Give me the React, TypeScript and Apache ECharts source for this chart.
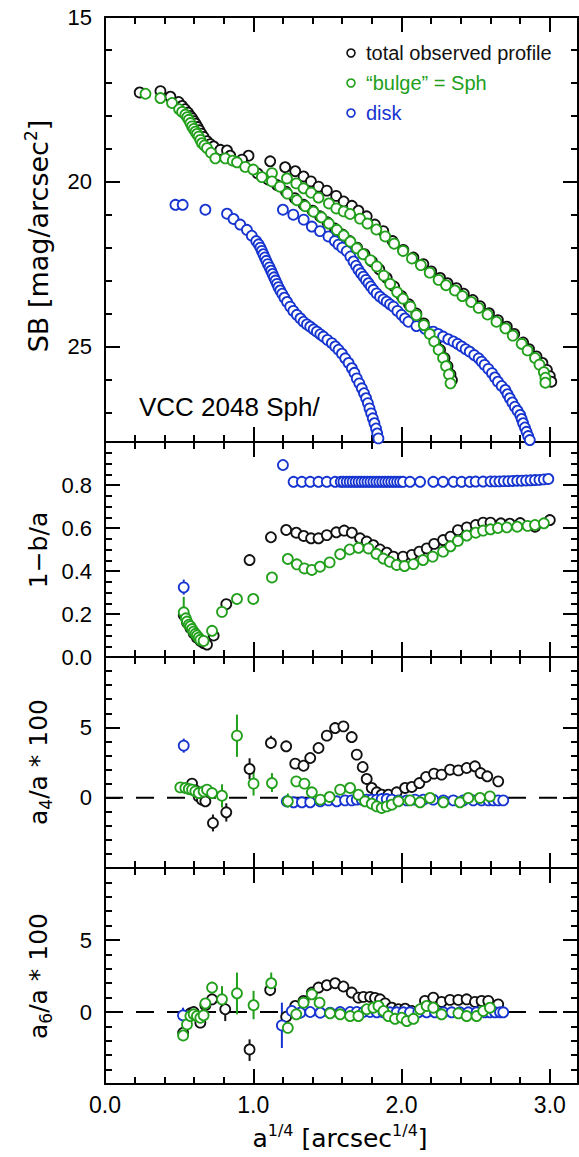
import React, { useEffect, useRef } from "react";
import * as echarts from "echarts";

const BLACK = "#111111";
const GREEN = "#22a01c";
const BLUE = "#1634d0";
const FONT = '"Liberation Sans", Arial, sans-serif';
const TFONT = '"DejaVu Sans", sans-serif';

// ---------- Panel 1: surface brightness (x = a^1/4, y = SB) ----------
const sbBlackA = [
  [0.968, 19.21], [1.114, 19.38], [1.215, 19.56], [1.283, 19.68], [1.339, 19.84], [1.389, 19.99],
  [1.44, 20.15], [1.496, 20.27], [1.559, 20.43], [1.61, 20.6], [1.665, 20.73], [1.709, 20.88],
  [1.765, 21.05], [1.82, 21.3], [1.877, 21.5], [1.94, 21.8], [2.012, 22.07], [2.08, 22.3],
  [2.147, 22.5], [2.2, 22.72], [2.26, 22.92], [2.31, 23.08], [2.37, 23.23], [2.42, 23.4],
  [2.48, 23.59], [2.53, 23.78], [2.59, 23.99], [2.65, 24.2], [2.71, 24.4], [2.76, 24.62],
  [2.82, 24.88], [2.86, 25.08], [2.91, 25.3], [2.95, 25.5], [2.98, 25.71], [3.0, 25.9], [3.01, 26.07],
];
const sbBlackB = [
  [0.234, 17.29], [0.374, 17.25], [0.441, 17.42], [0.497, 17.58], [0.52, 17.7], [0.54, 17.8],
  [0.56, 17.9], [0.575, 18.0], [0.587, 18.07], [0.6, 18.16], [0.612, 18.24], [0.625, 18.34],
  [0.637, 18.44], [0.65, 18.54], [0.665, 18.64], [0.688, 18.77], [0.71, 18.86], [0.733, 18.93],
  [0.778, 19.03], [0.823, 19.05], [0.845, 19.21], [0.924, 19.33], [1.03, 19.75], [1.1, 19.93],
  [1.16, 20.1], [1.22, 20.3], [1.28, 20.5], [1.34, 20.7], [1.4, 20.88], [1.45, 21.05],
  [1.5, 21.23], [1.55, 21.42], [1.6, 21.6], [1.65, 21.8], [1.7, 22.0], [1.75, 22.2],
  [1.8, 22.42], [1.85, 22.66], [1.9, 22.92], [1.95, 23.18], [2.0, 23.47], [2.05, 23.72],
  [2.1, 24.0], [2.15, 24.3], [2.19, 24.58], [2.23, 24.85], [2.26, 25.1], [2.29, 25.35],
  [2.31, 25.6], [2.33, 25.85], [2.34, 26.02],
];
const sbGreenA = [
  [1.126, 19.74], [1.227, 19.9], [1.29, 20.05], [1.339, 20.2], [1.39, 20.33], [1.44, 20.48],
  [1.51, 20.66], [1.56, 20.81], [1.61, 20.9], [1.653, 20.98], [1.72, 21.12], [1.77, 21.27],
  [1.83, 21.45], [1.89, 21.66], [1.95, 21.88], [2.01, 22.1], [2.07, 22.33], [2.13, 22.53],
  [2.19, 22.76], [2.25, 22.98], [2.3, 23.14], [2.36, 23.3], [2.41, 23.47], [2.47, 23.65],
  [2.52, 23.83], [2.58, 24.03], [2.64, 24.25], [2.7, 24.45], [2.75, 24.67], [2.81, 24.92],
  [2.85, 25.12], [2.9, 25.35], [2.93, 25.55], [2.96, 25.78], [2.97, 25.95], [2.97, 26.1],
];
const sbGreenB = [
  [0.273, 17.33], [0.374, 17.46], [0.452, 17.61], [0.5, 17.8], [0.52, 17.88], [0.542, 17.96],
  [0.555, 18.04], [0.565, 18.12], [0.576, 18.22], [0.587, 18.32], [0.598, 18.4], [0.61, 18.48],
  [0.62, 18.55], [0.632, 18.63], [0.643, 18.73], [0.654, 18.83], [0.67, 18.9], [0.688, 18.98],
  [0.715, 19.12], [0.744, 19.29], [0.811, 19.29], [0.862, 19.36], [0.89, 19.41], [0.946, 19.55],
  [1.0, 19.63], [1.058, 19.86], [1.126, 19.99], [1.18, 20.15], [1.23, 20.36], [1.294, 20.56],
  [1.35, 20.74], [1.406, 20.91], [1.46, 21.08], [1.51, 21.27], [1.564, 21.46], [1.61, 21.63],
  [1.655, 21.82], [1.698, 22.02], [1.74, 22.2], [1.79, 22.38], [1.833, 22.57], [1.88, 22.85],
  [1.923, 23.1], [1.97, 23.35], [2.01, 23.55], [2.06, 23.79], [2.1, 24.05], [2.15, 24.35],
  [2.19, 24.62], [2.22, 24.85], [2.25, 25.1], [2.28, 25.35], [2.3, 25.6], [2.32, 25.85], [2.33, 26.12],
];
const sbBlue1 = [
  [0.475, 20.7], [0.524, 20.7], [0.677, 20.85], [0.823, 20.97], [0.867, 21.13], [0.912, 21.3],
  [0.957, 21.46], [0.99, 21.64], [1.02, 21.8], [1.036, 21.9], [1.048, 22.0], [1.058, 22.1],
  [1.068, 22.2], [1.078, 22.3], [1.088, 22.4], [1.098, 22.5], [1.11, 22.6], [1.12, 22.7],
  [1.13, 22.8], [1.14, 22.9], [1.15, 23.0], [1.16, 23.1], [1.17, 23.2], [1.182, 23.3],
  [1.195, 23.4], [1.21, 23.52], [1.228, 23.65], [1.249, 23.79], [1.27, 23.92], [1.294, 24.04],
  [1.318, 24.15], [1.339, 24.25], [1.362, 24.33], [1.384, 24.4], [1.407, 24.48], [1.429, 24.55],
  [1.452, 24.63], [1.473, 24.7], [1.5, 24.8], [1.53, 24.9], [1.553, 25.0], [1.575, 25.1],
  [1.598, 25.22], [1.62, 25.36], [1.643, 25.5], [1.665, 25.66], [1.682, 25.8], [1.698, 25.97],
  [1.715, 26.12], [1.732, 26.27], [1.747, 26.42], [1.761, 26.57], [1.773, 26.72], [1.784, 26.88],
  [1.795, 27.03], [1.806, 27.18], [1.817, 27.33], [1.828, 27.49], [1.836, 27.64], [1.844, 27.79],
];
const sbBlue2 = [
  [1.2, 20.85], [1.27, 21.0], [1.34, 21.15], [1.395, 21.36], [1.45, 21.5], [1.507, 21.66],
  [1.55, 21.8], [1.575, 21.91], [1.6, 22.0], [1.63, 22.11], [1.655, 22.27], [1.676, 22.42],
  [1.693, 22.55], [1.709, 22.67], [1.726, 22.78], [1.743, 22.88], [1.76, 22.98], [1.777, 23.08],
  [1.793, 23.18], [1.81, 23.28], [1.832, 23.39], [1.855, 23.49], [1.878, 23.57], [1.9, 23.64],
  [1.922, 23.72], [1.945, 23.79], [1.972, 23.92], [2.0, 24.04], [2.023, 24.15], [2.046, 24.25],
  [2.1, 24.38], [2.16, 24.47], [2.214, 24.55], [2.247, 24.62], [2.28, 24.7], [2.315, 24.78],
  [2.35, 24.85], [2.378, 24.92], [2.405, 25.0], [2.432, 25.08], [2.46, 25.16], [2.49, 25.26],
  [2.52, 25.36], [2.54, 25.46], [2.56, 25.56], [2.585, 25.68], [2.61, 25.81], [2.63, 25.94],
  [2.65, 26.07], [2.675, 26.2], [2.7, 26.32], [2.715, 26.45], [2.73, 26.57], [2.747, 26.7],
  [2.764, 26.83], [2.782, 26.95], [2.8, 27.08], [2.81, 27.2], [2.82, 27.33], [2.832, 27.46],
  [2.843, 27.59], [2.854, 27.72], [2.865, 27.84],
];

// ---------- Panel 2: ellipticity 1-b/a ----------
const ellBlack = [
  [0.531, 0.195], [0.553, 0.16], [0.576, 0.135], [0.598, 0.11], [0.62, 0.09], [0.643, 0.075],
  [0.665, 0.065], [0.688, 0.058], [0.733, 0.1], [0.818, 0.246], [0.975, 0.451], [1.119, 0.557],
  [1.222, 0.591], [1.29, 0.578], [1.34, 0.563], [1.39, 0.552], [1.44, 0.552], [1.496, 0.567],
  [1.56, 0.58], [1.613, 0.588], [1.665, 0.578], [1.72, 0.552], [1.765, 0.537], [1.81, 0.52],
  [1.855, 0.5], [1.9, 0.485], [1.945, 0.467], [2.01, 0.467], [2.07, 0.475], [2.12, 0.49],
  [2.17, 0.505], [2.22, 0.526], [2.28, 0.544], [2.33, 0.56], [2.38, 0.59], [2.44, 0.603],
  [2.5, 0.614], [2.55, 0.625], [2.6, 0.625], [2.67, 0.622], [2.73, 0.62], [2.8, 0.623],
  [2.9, 0.606], [3.0, 0.637],
];
const ellGreen = [
  [0.531, 0.208], [0.545, 0.18], [0.553, 0.165], [0.565, 0.15], [0.576, 0.143], [0.587, 0.13],
  [0.598, 0.118], [0.61, 0.108], [0.62, 0.1], [0.632, 0.09], [0.643, 0.08], [0.665, 0.075],
  [0.722, 0.122], [0.789, 0.21], [0.89, 0.27], [1.0, 0.27], [1.126, 0.37], [1.233, 0.456],
  [1.294, 0.431], [1.345, 0.412], [1.395, 0.405], [1.45, 0.42], [1.515, 0.44], [1.586, 0.478],
  [1.65, 0.5], [1.71, 0.508], [1.777, 0.505], [1.83, 0.48], [1.877, 0.458], [1.92, 0.443],
  [1.967, 0.428], [2.02, 0.423], [2.08, 0.432], [2.145, 0.451], [2.21, 0.467], [2.28, 0.49],
  [2.33, 0.515], [2.38, 0.54], [2.44, 0.565], [2.5, 0.578], [2.55, 0.588], [2.6, 0.594],
  [2.65, 0.6], [2.71, 0.603], [2.78, 0.606], [2.85, 0.61], [2.9, 0.614], [2.96, 0.622],
];
const ellBlue = [
  [0.531, 0.324], [1.2, 0.893], [1.272, 0.815], [1.328, 0.815], [1.384, 0.815], [1.44, 0.815],
  [1.496, 0.815], [1.552, 0.815], [1.59, 0.815], [1.608, 0.815], [1.63, 0.815], [1.65, 0.815],
  [1.67, 0.815], [1.69, 0.815], [1.71, 0.815], [1.73, 0.815], [1.75, 0.815], [1.77, 0.815],
  [1.79, 0.815], [1.81, 0.815], [1.83, 0.815], [1.85, 0.815], [1.87, 0.815], [1.89, 0.815],
  [1.91, 0.815], [1.93, 0.815], [1.95, 0.815], [1.97, 0.815], [1.99, 0.815], [2.01, 0.815],
  [2.057, 0.815], [2.125, 0.815], [2.214, 0.815], [2.28, 0.815], [2.35, 0.815], [2.405, 0.815],
  [2.46, 0.815], [2.5, 0.816], [2.55, 0.816], [2.6, 0.817], [2.63, 0.817], [2.66, 0.817],
  [2.69, 0.818], [2.72, 0.818], [2.75, 0.819], [2.78, 0.82], [2.81, 0.82], [2.84, 0.821],
  [2.87, 0.822], [2.9, 0.823], [2.93, 0.824], [2.96, 0.826], [2.99, 0.828],
];
const ellErrBlue = [[0.531, 0.29, 0.36]];
const ellErrGreen = [[0.531, 0.21, 0.28]];

// ---------- Panel 3: a4/a * 100 ----------
const a4Black = [
  [0.587, 1.0], [0.609, 0.52], [0.632, 0.09], [0.654, -0.14], [0.677, -0.26], [0.728, -1.8],
  [0.818, -1.04], [0.975, 2.04], [1.119, 3.89], [1.222, 3.65], [1.283, 2.42], [1.339, 2.27],
  [1.384, 2.82], [1.44, 3.53], [1.496, 4.41], [1.552, 4.95], [1.608, 5.07], [1.664, 4.31],
  [1.698, 3.06], [1.738, 2.18], [1.765, 1.33], [1.799, 0.69], [1.833, 0.38], [1.866, 0.21],
  [1.911, 0.21], [1.967, 0.38], [2.024, 0.69], [2.069, 0.76], [2.12, 1.04], [2.165, 1.47],
  [2.219, 1.71], [2.27, 1.64], [2.327, 1.99], [2.383, 1.94], [2.439, 2.11], [2.495, 2.23],
  [2.533, 1.75], [2.578, 1.52], [2.652, 1.16],
];
const a4Green = [
  [0.508, 0.73], [0.542, 0.69], [0.565, 0.62], [0.587, 0.57], [0.609, 0.45], [0.632, 0.33],
  [0.665, 0.45], [0.688, 0.57], [0.722, 0.33], [0.789, 0.14], [0.89, 4.41], [1.002, 1.0],
  [1.126, 1.04], [1.233, -0.26], [1.29, 1.16], [1.345, 1.0], [1.395, 0.38], [1.452, -0.14],
  [1.515, 0.05], [1.586, 0.57], [1.653, 0.69], [1.709, 0.21], [1.754, -0.26], [1.799, -0.43],
  [1.833, -0.62], [1.866, -0.73], [1.9, -0.62], [1.934, -0.5], [1.979, -0.26], [2.057, -0.19],
  [2.125, -0.33], [2.192, -0.02], [2.282, -0.33], [2.394, -0.33], [2.45, -0.02], [2.529, -0.02],
  [2.596, 0.09],
];
const a4Blue = [
  [0.531, 3.7], [1.226, -0.26], [1.272, -0.33], [1.328, -0.33], [1.384, -0.33], [1.452, -0.26],
  [1.507, -0.19], [1.563, -0.26], [1.619, -0.19], [1.664, -0.19], [1.698, -0.14], [1.732, -0.14],
  [1.765, -0.14], [1.799, -0.14], [1.833, -0.14], [1.866, -0.1], [1.9, -0.1], [1.934, -0.14],
  [1.979, -0.19], [2.035, -0.19], [2.091, -0.14], [2.147, -0.14], [2.214, -0.14], [2.282, -0.19],
  [2.349, -0.19], [2.417, -0.19], [2.484, -0.19], [2.54, -0.19], [2.585, -0.19], [2.618, -0.19],
  [2.652, -0.19], [2.686, -0.19],
];
const a4ErrBlack = [[0.728, -2.4, -1.2], [0.818, -1.7, -0.4], [0.975, 1.3, 2.8], [1.119, 3.5, 4.4]];
const a4ErrGreen = [[0.789, -0.7, 0.95], [0.89, 2.9, 5.9], [1.002, 0.15, 1.9], [1.126, 0.4, 1.75], [1.233, -0.7, 0.3]];
const a4ErrBlue = [[0.531, 3.2, 4.2]];

// ---------- Panel 4: a6/a * 100 ----------
const a6Black = [
  [0.527, -1.44], [0.576, -0.09], [0.598, 0.0], [0.643, -0.74], [0.677, 0.47], [0.722, 0.88],
  [0.811, 0.19], [0.975, -2.6], [1.114, 1.53], [1.222, -0.33], [1.283, 0.42], [1.339, 0.77],
  [1.395, 1.35], [1.44, 1.7], [1.496, 1.86], [1.552, 2.0], [1.608, 1.77], [1.664, 1.35],
  [1.709, 1.0], [1.743, 1.05], [1.788, 1.05], [1.821, 0.98], [1.855, 0.88], [1.889, 0.6],
  [1.934, 0.3], [1.979, 0.19], [2.024, 0.23], [2.069, 0.07], [2.158, 0.77], [2.214, 1.0],
  [2.27, 0.7], [2.327, 0.84], [2.383, 0.84], [2.439, 0.88], [2.495, 0.7], [2.54, 0.77],
  [2.585, 0.77], [2.652, 0.53],
];
const a6Green = [
  [0.527, -1.63], [0.553, -0.86], [0.576, -0.28], [0.598, -0.16], [0.62, -0.28], [0.643, -0.4],
  [0.665, -0.23], [0.677, 0.6], [0.722, 1.7], [0.789, 0.88], [0.89, 1.3], [1.002, 0.47],
  [1.121, 2.0], [1.233, -1.1], [1.29, -0.16], [1.339, 0.65], [1.395, 1.23], [1.447, 0.65],
  [1.518, -0.09], [1.586, -0.16], [1.653, -0.28], [1.709, -0.28], [1.765, 0.19], [1.81, 0.3],
  [1.844, 0.42], [1.878, 0.07], [1.911, -0.28], [1.956, -0.47], [2.001, -0.4], [2.035, -0.63],
  [2.08, -0.47], [2.125, 0.19], [2.169, 0.42], [2.214, 0.3], [2.27, -0.16], [2.383, -0.09],
  [2.439, -0.28], [2.506, -0.28], [2.551, 0.07], [2.596, 0.3],
];
const a6Blue = [
  [0.526, -0.23], [1.193, -0.93], [1.26, 0.07], [1.317, -0.05], [1.384, 0.0], [1.452, -0.05],
  [1.518, -0.05], [1.586, 0.0], [1.653, 0.0], [1.698, 0.0], [1.743, 0.0], [1.788, 0.0],
  [1.833, -0.02], [1.878, -0.02], [1.922, -0.02], [1.967, -0.02], [2.012, -0.02], [2.057, -0.02],
  [2.113, -0.02], [2.169, -0.02], [2.225, -0.02], [2.282, -0.02], [2.338, -0.02], [2.394, -0.02],
  [2.45, -0.02], [2.506, -0.02], [2.562, -0.02], [2.596, -0.02], [2.63, -0.02], [2.664, -0.02],
  [2.686, -0.02],
];
const a6ErrBlack = [[0.811, -0.63, 0.65], [0.975, -3.4, -1.9], [1.114, 1.1, 1.9]];
const a6ErrGreen = [[0.722, 1.35, 2.05], [0.789, 0.3, 1.8], [0.89, -0.16, 2.74], [1.002, -0.5, 1.47], [1.121, 1.47, 2.74]];
const a6ErrBlue = [[0.526, -0.6, 0.3], [1.193, -2.5, 0.65]];

// ---------- axes ----------
const X_MIN = 0;
const X_MAX = 3.19;
const X_TICKS_MAJOR = 1;
const Y_CFG = [
  { min: 15, max: 27.9, interval: 5, minor: 5, inverse: true, fmt: (v: number) => String(v), showMin: true },
  { min: 0, max: 1.0, interval: 0.2, minor: 4, inverse: false, fmt: (v: number) => v.toFixed(1), showMin: true },
  { min: -5, max: 10, interval: 5, minor: 5, inverse: false, fmt: (v: number) => String(v), showMin: false },
  { min: -5, max: 10, interval: 5, minor: 5, inverse: false, fmt: (v: number) => String(v), showMin: false },
];
const GRIDS = [
  { top: 17, height: 425 },
  { top: 442, height: 215 },
  { top: 657, height: 211 },
  { top: 868, height: 216 },
];

const lineStyle = { color: "#000", width: 2 };

function xAxis(i: number, pos: string, showLabel: boolean) {
  return {
    type: "value", gridIndex: i, position: pos, min: X_MIN, max: X_MAX, interval: X_TICKS_MAJOR,
    axisLine: { show: true, onZero: false, lineStyle },
    axisTick: { show: true, inside: true, length: 15, lineStyle },
    minorTick: { show: true, splitNumber: 5, length: 7, lineStyle },
    splitLine: { show: false }, minorSplitLine: { show: false },
    axisLabel: {
      show: showLabel, showMaxLabel: false, margin: 9, color: "#000", fontSize: 23, fontFamily: FONT,
      formatter: (v: number) => v.toFixed(1),
    },
  };
}
function yAxis(i: number, pos: string) {
  const c = Y_CFG[i];
  return {
    type: "value", gridIndex: i, position: pos, min: c.min, max: c.max, interval: c.interval, inverse: c.inverse,
    axisLine: { show: true, onZero: false, lineStyle },
    axisTick: { show: true, inside: true, length: 15, lineStyle },
    minorTick: { show: true, splitNumber: c.minor, length: 7, lineStyle },
    splitLine: { show: false }, minorSplitLine: { show: false },
    axisLabel: {
      show: pos === "left", showMaxLabel: false, showMinLabel: c.showMin, margin: 13, color: "#000",
      fontSize: 22, fontFamily: FONT, formatter: c.fmt,
    },
  };
}

function scatter(i: number, data: number[][], color: string) {
  return {
    type: "scatter", xAxisIndex: i, yAxisIndex: i, data, symbol: "circle", symbolSize: 10, silent: true, z: 3,
    itemStyle: { color: "#ffffff", borderColor: color, borderWidth: 1.8, opacity: 1 },
  };
}
function errBars(i: number, data: number[][], color: string) {
  return {
    type: "custom", xAxisIndex: i, yAxisIndex: i, data, silent: true, z: 2,
    encode: { x: 0, y: [1, 2] },
    renderItem: (_p: any, api: any) => {
      const a = api.coord([api.value(0), api.value(1)]);
      const b = api.coord([api.value(0), api.value(2)]);
      return { type: "line", shape: { x1: a[0], y1: a[1], x2: b[0], y2: b[1] }, style: { stroke: color, lineWidth: 2 } };
    },
  };
}
function zeroLine(i: number) {
  return {
    type: "line", xAxisIndex: i, yAxisIndex: i, data: [[X_MIN, 0], [X_MAX, 0]], symbol: "none", silent: true, z: 1,
    lineStyle: { color: "#000", width: 2, type: [18, 13] },
  };
}

const LEGEND = [
  { label: "total observed profile", color: BLACK },
  { label: "\u201cbulge\u201d = Sph", color: GREEN },
  { label: "disk", color: BLUE },
];

export default function App() {
  const ref = useRef<HTMLDivElement>(null);
  useEffect(() => {
    if (!ref.current) return;
    const chart = echarts.init(ref.current, null, { renderer: "svg" });
    const legendGraphics: any[] = [];
    LEGEND.forEach((l, k) => {
      const y = 53 + k * 30;
      legendGraphics.push({ type: "circle", shape: { cx: 351, cy: y, r: 4 }, style: { fill: "none", stroke: l.color, lineWidth: 1.6 } });
      legendGraphics.push({
        type: "text", x: 366, y,
        style: { text: l.label, fill: l.color, fontSize: 20, fontFamily: FONT, align: "left", verticalAlign: "middle" },
      });
    });
    const option: any = {
      animation: false,
      backgroundColor: "#ffffff",
      grid: GRIDS.map((g) => ({ left: 105, right: 1, top: g.top, height: g.height, containLabel: false })),
      xAxis: [0, 1, 2, 3].map((i) => xAxis(i, "bottom", i === 3)).concat([0, 1, 2, 3].map((i) => xAxis(i, "top", false))),
      yAxis: [0, 1, 2, 3].map((i) => yAxis(i, "left")).concat([0, 1, 2, 3].map((i) => yAxis(i, "right"))),
      series: [
        scatter(0, sbBlackA, BLACK), scatter(0, sbBlackB, BLACK),
        scatter(0, sbBlue1, BLUE), scatter(0, sbBlue2, BLUE),
        scatter(0, sbGreenA, GREEN), scatter(0, sbGreenB, GREEN),

        errBars(1, ellErrBlue, BLUE), errBars(1, ellErrGreen, GREEN),
        scatter(1, ellBlack, BLACK), scatter(1, ellBlue, BLUE), scatter(1, ellGreen, GREEN),

        zeroLine(2),
        errBars(2, a4ErrBlack, BLACK), errBars(2, a4ErrGreen, GREEN), errBars(2, a4ErrBlue, BLUE),
        scatter(2, a4Black, BLACK), scatter(2, a4Blue, BLUE), scatter(2, a4Green, GREEN),

        zeroLine(3),
        errBars(3, a6ErrBlack, BLACK), errBars(3, a6ErrGreen, GREEN), errBars(3, a6ErrBlue, BLUE),
        scatter(3, a6Black, BLACK), scatter(3, a6Blue, BLUE), scatter(3, a6Green, GREEN),
      ],
      graphic: [
        ...legendGraphics,
        {
          type: "text", x: 139, y: 407,
          style: { text: "VCC 2048 Sph/", fill: "#000", fontSize: 26, fontFamily: FONT, align: "left", verticalAlign: "middle" },
        },
        {
          type: "text", x: 38, y: 236, rotation: Math.PI / 2,
          style: {
            text: "{n|SB [mag/arcsec}{s|2}{n|]}", align: "center", verticalAlign: "middle",
            rich: {
              n: { fontSize: 27, fontFamily: TFONT, fill: "#000", lineHeight: 32 },
              s: { fontSize: 17, fontFamily: TFONT, fill: "#000", lineHeight: 17, verticalAlign: "top" },
            },
          },
        },
        {
          type: "text", x: 38, y: 550, rotation: Math.PI / 2,
          style: { text: "1\u2212b/a", fill: "#000", fontSize: 25, fontFamily: TFONT, align: "center", verticalAlign: "middle" },
        },
        {
          type: "text", x: 38, y: 762, rotation: Math.PI / 2,
          style: {
            text: "{n|a}{s|4}{n|/a * 100}", align: "center", verticalAlign: "middle",
            rich: {
              n: { fontSize: 25, fontFamily: TFONT, fill: "#000", lineHeight: 32 },
              s: { fontSize: 17, fontFamily: TFONT, fill: "#000", lineHeight: 17, verticalAlign: "bottom" },
            },
          },
        },
        {
          type: "text", x: 38, y: 976, rotation: Math.PI / 2,
          style: {
            text: "{n|a}{s|6}{n|/a * 100}", align: "center", verticalAlign: "middle",
            rich: {
              n: { fontSize: 25, fontFamily: TFONT, fill: "#000", lineHeight: 32 },
              s: { fontSize: 17, fontFamily: TFONT, fill: "#000", lineHeight: 17, verticalAlign: "bottom" },
            },
          },
        },
        {
          type: "text", x: 340, y: 1138,
          style: {
            text: "{n|a}{s|1/4}{n| [arcsec}{s|1/4}{n|]}", align: "center", verticalAlign: "middle",
            rich: {
              n: { fontSize: 25, fontFamily: TFONT, fill: "#000", lineHeight: 32 },
              s: { fontSize: 16, fontFamily: TFONT, fill: "#000", lineHeight: 16, verticalAlign: "top" },
            },
          },
        },
      ],
    };
    chart.setOption(option);
    return () => chart.dispose();
  }, []);
  return <div ref={ref} style={{ position: "absolute", left: 0, top: 0, width: 579, height: 1157, background: "#fff" }} />;
}
